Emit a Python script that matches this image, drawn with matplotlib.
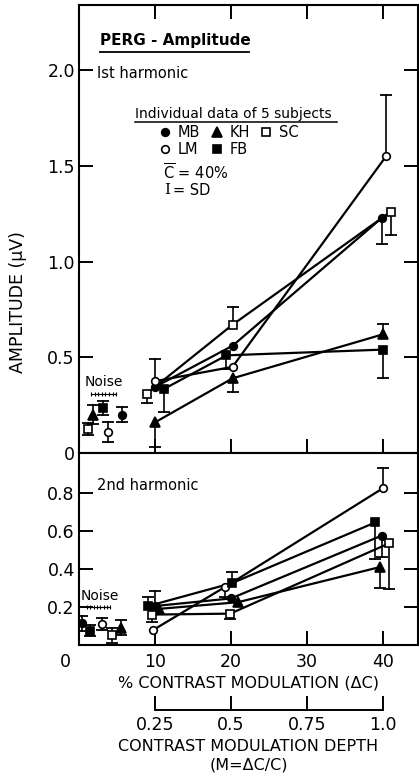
import matplotlib.pyplot as plt
import numpy as np
from matplotlib.lines import Line2D

plt.rcParams['font.family'] = 'DejaVu Sans'
plt.rcParams['mathtext.fontset'] = 'dejavusans'

subjects = ['MB', 'LM', 'KH', 'FB', 'SC']

# 1st harmonic: positions on the contrast axis (slightly offset as drawn), amplitude, SD below / above
h1_pos = {'MB': [10.0, 20.2, 39.9], 'LM': [10.0, 20.2, 40.4], 'KH': [10.0, 20.2, 40.0],
          'FB': [11.2, 19.4, 40.0], 'SC': [8.9, 20.2, 41.0]}
h1_amp = {'MB': [0.345, 0.56, 1.23], 'LM': [0.375, 0.45, 1.55], 'KH': [0.16, 0.39, 0.62],
          'FB': [0.335, 0.51, 0.54], 'SC': [0.31, 0.67, 1.26]}
h1_lo = {'MB': [0, 0, 0.14], 'LM': [0, 0, 0], 'KH': [0.13, 0.07, 0],
         'FB': [0.12, 0.07, 0.15], 'SC': [0.05, 0, 0.12]}
h1_hi = {'MB': [0, 0, 0], 'LM': [0.115, 0, 0.32], 'KH': [0, 0, 0.055],
         'FB': [0, 0, 0], 'SC': [0, 0.09, 0]}

# 2nd harmonic
h2_pos = {'MB': [10.0, 20.0, 39.8], 'LM': [9.8, 19.2, 40.0], 'KH': [10.5, 20.9, 39.6],
          'FB': [9.1, 20.1, 39.0], 'SC': [9.6, 19.9, 40.8]}
h2_amp = {'MB': [0.205, 0.245, 0.575], 'LM': [0.08, 0.305, 0.825], 'KH': [0.19, 0.225, 0.41],
          'FB': [0.205, 0.325, 0.645], 'SC': [0.16, 0.165, 0.535]}
h2_lo = {'MB': [0, 0, 0.11], 'LM': [0, 0.05, 0], 'KH': [0, 0, 0.11],
         'FB': [0, 0, 0.19], 'SC': [0.04, 0.03, 0.24]}
h2_hi = {'MB': [0.08, 0, 0], 'LM': [0, 0, 0.105], 'KH': [0, 0, 0],
         'FB': [0.05, 0.06, 0], 'SC': [0, 0, 0]}

# noise levels (plotted left of the 10 % column), +/- SD
noise1_pos = {'SC': 1.2, 'KH': 1.9, 'FB': 3.2, 'LM': 3.8, 'MB': 5.7}
noise1_amp = {'SC': 0.125, 'KH': 0.20, 'FB': 0.235, 'LM': 0.11, 'MB': 0.20}
noise1_sd = {'SC': 0.03, 'KH': 0.05, 'FB': 0.035, 'LM': 0.05, 'MB': 0.04}
noise2_pos = {'MB': 0.4, 'FB': 1.4, 'LM': 3.0, 'SC': 4.3, 'KH': 5.5}
noise2_amp = {'MB': 0.115, 'FB': 0.075, 'LM': 0.11, 'SC': 0.05, 'KH': 0.09}
noise2_sd = {'MB': 0.04, 'FB': 0.03, 'LM': 0.03, 'SC': 0.04, 'KH': 0.04}

depth_ticks = [10, 20, 30, 40]
depth_labels = ['0.25', '0.5', '0.75', '1.0']

estilo = {'MB': dict(marker='o', mfc='k', ms=5.5),
          'LM': dict(marker='o', mfc='w', ms=5.5),
          'KH': dict(marker='^', mfc='k', ms=7),
          'FB': dict(marker='s', mfc='k', ms=5.2),
          'SC': dict(marker='s', mfc='w', ms=5.2)}


def barra(ax, x, y, lo, hi):
    """SD bars drawn only on the sides that were measured"""
    for xi, yi, a, b in zip(x, y, lo, hi):
        for fin in ([yi - a] if a > 0 else []) + ([yi + b] if b > 0 else []):
            ax.plot([xi, xi], [yi, fin], color='k', lw=1.2, zorder=2)
            ax.plot([xi], [fin], marker='_', ms=8, mew=1.3, color='k', zorder=2)


def panel(ax, pos, amp, lo, hi, npos, namp, nsd):
    for s in subjects:
        ax.plot(pos[s], amp[s], color='k', lw=1.6, zorder=1)
        barra(ax, pos[s], amp[s], lo[s], hi[s])
        ax.plot(pos[s], amp[s], ls='none', mec='k', mew=1.2, zorder=3, **estilo[s])
        barra(ax, [npos[s]], [namp[s]], [nsd[s]], [nsd[s]])
        ax.plot([npos[s]], [namp[s]], ls='none', mec='k', mew=1.2, zorder=3, **estilo[s])


def ruido(ax, xc, yt, yl, x0, x1):
    ax.text(xc, yt, 'Noise', ha='center', va='center', fontsize=10)
    xs = np.linspace(x0, x1, 8)
    ax.plot(xs, [yl] * len(xs), color='k', lw=0.8, marker='|', ms=3.5, mew=0.8)


fig = plt.figure(figsize=(4.19, 7.82), dpi=100)
izq = 79 / 419
ancho = (418 - 79) / 419
ax1 = fig.add_axes([izq, 1 - 453 / 782, ancho, 448 / 782])
ax2 = fig.add_axes([izq, 1 - 645 / 782, ancho, 192 / 782])

for ax in (ax1, ax2):
    ax.set_xlim(0, 44.6)
    for sp in ax.spines.values():
        sp.set_linewidth(1.5)
    ax.set_xticks([10, 20, 30, 40])
    ax.tick_params(direction='in', length=10, width=1.4, labelsize=12.5, pad=3,
                   left=True, right=True)

# ---- 1st harmonic ----
panel(ax1, h1_pos, h1_amp, h1_lo, h1_hi, noise1_pos, noise1_amp, noise1_sd)
ax1.set_ylim(0, 2.34)
ax1.set_yticks([0, 0.5, 1.0, 1.5, 2.0])
ax1.set_yticklabels(['0', '0.5', '1.0', '1.5', '2.0'])
ax1.tick_params(axis='x', top=True, bottom=True, labelbottom=False)
ruido(ax1, 3.2, 0.37, 0.31, 1.6, 4.9)

ax1.text(0.062, 0.905, 'PERG - Amplitude', transform=ax1.transAxes, fontsize=11,
         fontweight='bold', va='bottom')
ax1.plot([0.062, 0.50], [0.895, 0.895], transform=ax1.transAxes, color='k', lw=1.3)
ax1.text(0.053, 0.848, 'Ist harmonic', transform=ax1.transAxes, fontsize=10.5, va='center')
ax1.text(0.165, 0.757, 'Individual data of 5 subjects', transform=ax1.transAxes,
         fontsize=10, va='center')
ax1.plot([0.165, 0.761], [0.738, 0.738], transform=ax1.transAxes, color='k', lw=1.1)

manejadores = [Line2D([], [], ls='none', mec='k', mew=1.2, **estilo[s]) for s in subjects]
ax1.legend(manejadores, subjects, ncol=3, loc='upper left', bbox_to_anchor=(0.235, 0.733),
           frameon=False, fontsize=10.5, handlelength=0.9, handletextpad=0.4,
           columnspacing=0.7, labelspacing=0.15, borderpad=0, borderaxespad=0)
ax1.text(0.248, 0.627, r'$\overline{\mathrm{C}}$ = 40%', transform=ax1.transAxes,
         fontsize=10.5, va='center')
ax1.text(0.250, 0.587, 'I', transform=ax1.transAxes, fontsize=11, va='center',
         family='DejaVu Serif')
ax1.text(0.278, 0.587, '= SD', transform=ax1.transAxes, fontsize=10.5, va='center')

# ---- 2nd harmonic ----
panel(ax2, h2_pos, h2_amp, h2_lo, h2_hi, noise2_pos, noise2_amp, noise2_sd)
ax2.set_ylim(0, 1.01)
ax2.set_yticks([0.2, 0.4, 0.6, 0.8])
ax2.set_yticklabels(['0.2', '0.4', '0.6', '0.8'])
ax2.set_xticklabels(['10', '20', '30', '40'])
ax2.tick_params(axis='x', top=False, bottom=True, pad=6)
ax2.annotate('0', xy=(0, 0), xycoords='axes fraction', xytext=(-10, -12.5),
             textcoords='offset points', ha='center', va='center', fontsize=12.5)
ruido(ax2, 2.8, 0.26, 0.20, 1.05, 4.1)
ax2.text(0.053, 0.833, '2nd harmonic', transform=ax2.transAxes, fontsize=10.5, va='center')
ax2.set_xlabel('% CONTRAST MODULATION (\u0394C)', fontsize=11.5, labelpad=3)

# contrast modulation depth bracket
ax3 = fig.add_axes([izq, 1 - 710 / 782, ancho, 0.001])
ax3.set_xlim(0, 44.6)
ax3.patch.set_visible(False)
for k in ('top', 'left', 'right'):
    ax3.spines[k].set_visible(False)
ax3.spines['bottom'].set_bounds(depth_ticks[0], depth_ticks[-1])
ax3.spines['bottom'].set_linewidth(1.4)
ax3.set_yticks([])
ax3.set_xticks(depth_ticks)
ax3.set_xticklabels(depth_labels)
ax3.tick_params(axis='x', direction='in', length=10, width=1.4, labelsize=12.5, pad=4)
ax3.set_xlabel('CONTRAST MODULATION DEPTH\n(M=\u0394C/C)', fontsize=11.5, labelpad=4,
               linespacing=1.25)

fig.text(18 / 419, 1 - 302 / 782, 'AMPLITUDE (\u03bcV)', rotation=90, ha='center',
         va='center', fontsize=12.5)

plt.savefig('out.png', dpi=100, facecolor='white')
plt.close()
